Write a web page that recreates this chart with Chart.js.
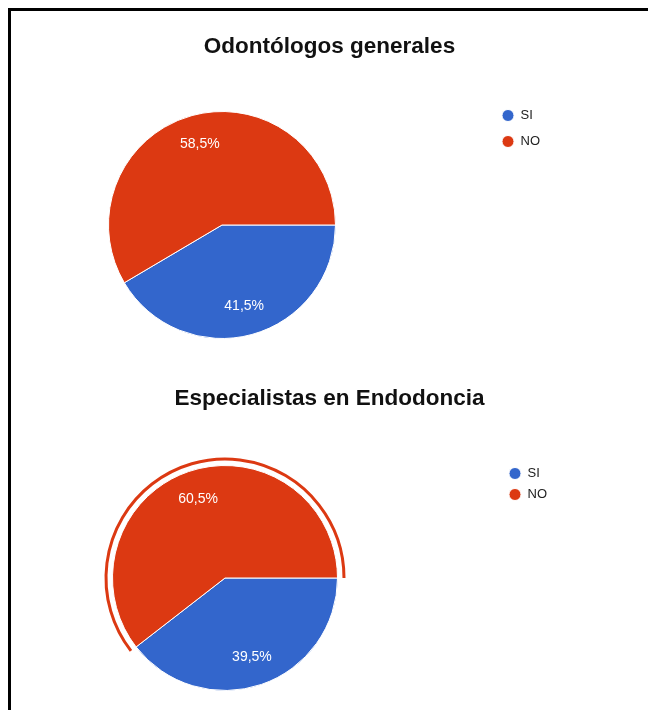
<!DOCTYPE html>
<html>
<head>
<meta charset="utf-8">
<script src="https://cdn.jsdelivr.net/npm/chart.js@4/dist/chart.umd.min.js"></script>
<style>
  html, body { margin: 0; padding: 0; background: #fff; overflow: hidden; }
  body { width: 648px; height: 710px; position: relative; }
  #frame { position: absolute; left: 8px; top: 8px; width: 700px; height: 720px;
           border-left: 3px solid #000; border-top: 3px solid #000; }
  canvas { position: absolute; }
  #c1 { left: 11px; top: 11px; }
  #c2 { left: 11px; top: 360px; }
</style>
</head>
<body>
<div id="frame"></div>
<canvas id="c1" width="637" height="340"></canvas>
<canvas id="c2" width="637" height="345"></canvas>
<script>
// data
const categories = ['SI', 'NO']
const generales = [41.5, 58.5]
const especialistas = [39.5, 60.5]
const titles = ['Odontólogos generales', 'Especialistas en Endodoncia']
const colors = ['#3366cc', '#dc3912']

Chart.defaults.font.family = '"Liberation Sans", Arial, sans-serif'
Chart.defaults.color = '#222'

// percent text inside every slice
const sliceLabels = {
  id: 'sliceLabels',
  afterDatasetsDraw(chart) {
    const ctx = chart.ctx
    const meta = chart.getDatasetMeta(0)
    const values = chart.data.datasets[0].data
    const total = values.reduce((a, b) => a + b, 0)
    ctx.save()
    ctx.fillStyle = '#fff'
    ctx.font = '14px "Liberation Sans", Arial, sans-serif'
    ctx.textAlign = 'center'
    ctx.textBaseline = 'middle'
    meta.data.forEach((arc, i) => {
      const p = arc.getProps(['x', 'y', 'startAngle', 'endAngle', 'outerRadius'], true)
      const mid = (p.startAngle + p.endAngle) / 2
      const d = p.outerRadius * 0.74
      const txt = (values[i] / total * 100).toFixed(1).replace('.', ',') + '%'
      ctx.fillText(txt, p.x + Math.cos(mid) * d, p.y + Math.sin(mid) * d)
    })
    ctx.restore()
  }
}

// outline ring around the selected slice
const ring = {
  id: 'ring',
  afterDatasetsDraw(chart, args, opts) {
    if (opts.index == null || opts.index < 0) return
    const arc = chart.getDatasetMeta(0).data[opts.index]
    const p = arc.getProps(['x', 'y', 'startAngle', 'endAngle', 'outerRadius'], true)
    const ctx = chart.ctx
    ctx.save()
    ctx.strokeStyle = colors[opts.index]
    ctx.lineWidth = 3
    ctx.beginPath()
    ctx.arc(p.x, p.y, p.outerRadius + 6.5, p.startAngle, p.endAngle)
    ctx.stroke()
    ctx.restore()
  }
}

// title over the whole width, legend at a fixed spot on the right
const place = {
  id: 'place',
  afterLayout(chart, args, opts) {
    const t = chart.titleBlock
    t.left = 0
    t.right = chart.width
    t.width = chart.width
    const l = chart.legend
    l.left = opts.legendX
    l.top = opts.legendY
    l.right = l.left + l.width
    l.bottom = l.top + l.height
  }
}

function pie(id, title, values, cfg) {
  return new Chart(document.getElementById(id), {
    type: 'pie',
    data: {
      labels: categories,
      datasets: [{
        data: values,
        backgroundColor: colors,
        borderColor: '#fff',
        borderWidth: 1,
        hoverOffset: 0
      }]
    },
    options: {
      responsive: false,
      animation: false,
      events: [],
      rotation: 90,
      layout: { padding: cfg.padding },
      plugins: {
        title: {
          display: true,
          text: title,
          color: '#111',
          font: { size: 22.5, weight: 'bold' },
          padding: cfg.titlePad
        },
        legend: {
          position: 'chartArea',
          align: 'start',
          labels: {
            usePointStyle: true,
            pointStyle: 'circle',
            boxWidth: 12,
            boxHeight: 8.5,
            padding: cfg.legendPad,
            color: '#222',
            font: { size: 13 }
          }
        },
        tooltip: { enabled: false },
        ring: { index: cfg.ring },
        place: { legendX: cfg.legendX, legendY: cfg.legendY }
      }
    },
    plugins: [sliceLabels, ring, place]
  })
}

pie('c1', titles[0], generales, {
  padding: { left: 97, right: 312, top: 0, bottom: 12 },
  titlePad: { top: 22, bottom: 51 },
  legendPad: 13, legendX: 478, legendY: 85, ring: -1
})

pie('c2', titles[1], especialistas, {
  padding: { left: 101, right: 310, top: 0, bottom: 14 },
  titlePad: { top: 25.5, bottom: 52.5 },
  legendPad: 8, legendX: 490, legendY: 99, ring: 1
})
</script>
</body>
</html>
